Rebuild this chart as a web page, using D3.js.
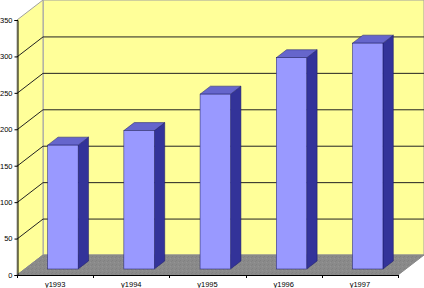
<!DOCTYPE html>
<html><head><meta charset="utf-8">
<script src="https://cdn.jsdelivr.net/npm/d3@7"></script>
<style>body{margin:0;background:#fff}svg{display:block}</style>
</head><body>
<svg id="c" width="424" height="288"></svg>
<script>
const categories = ["y1993","y1994","y1995","y1996","y1997"];
const values = [170, 190, 240, 290, 310];
const yTicks = [0,50,100,150,200,250,300,350];

const svg = d3.select("#c");
const DX = 26, DY = -20;
const x = d3.scaleBand().domain(categories).range([17, 398]).paddingInner(0.6).paddingOuter(0.3);
const xEdge = d3.scaleLinear().domain([0, categories.length]).range([17, 398]);
const y = d3.scaleLinear().domain([0, 350]).range([275, 20]);
const P = (px, v, d) => [px + d*DX, y(v) + d*DY];
const poly = pts => "M" + pts.map(p => p.join(",")).join("L") + "Z";

// floor texture pattern
const defs = svg.append("defs");
const pat = defs.append("pattern").attr("id","floor").attr("width",4).attr("height",4).attr("patternUnits","userSpaceOnUse");
pat.append("rect").attr("width",4).attr("height",4).attr("fill","#8a8a8a");
pat.append("rect").attr("x",0).attr("y",0).attr("width",1).attr("height",1).attr("fill","#808080");
pat.append("rect").attr("x",2).attr("y",2).attr("width",1).attr("height",1).attr("fill","#949494");
pat.append("rect").attr("x",3).attr("y",1).attr("width",1).attr("height",1).attr("fill","#828282");

const x0 = 17, x1 = 398, ymax = 350;
// back wall
svg.append("path").attr("d", poly([P(x0,0,1),P(x0,ymax,1),P(x1,ymax,1),P(x1,0,1)]))
  .attr("fill","#ffff99").attr("stroke","#a0a0a0").attr("stroke-width",1);
// left wall
svg.append("path").attr("d", poly([P(x0,0,0),P(x0,ymax,0),P(x0,ymax,1),P(x0,0,1)]))
  .attr("fill","#ffff99").attr("stroke","#a0a0a0").attr("stroke-width",1);
// dotted corner line
svg.append("line").attr("x1",P(x0,0,1)[0]+0.5).attr("x2",P(x0,ymax,1)[0]+0.5)
  .attr("y1",P(x0,0,1)[1]).attr("y2",P(x0,ymax,1)[1])
  .attr("stroke","#b0b0b0").attr("stroke-dasharray","1,1");
// gridlines
const gl = yTicks.filter(t => t > 0 && t < ymax);
gl.forEach(t => {
  const a = P(x0,t,0), b = P(x0,t,1), c = P(x1,t,1);
  svg.append("path").attr("d", `M${a[0]},${a[1]+0.5}L${b[0]},${b[1]+0.5}L${c[0]},${c[1]+0.5}`)
    .attr("fill","none").attr("stroke","#222").attr("stroke-width",1);
});
// floor
svg.append("path").attr("d", poly([P(x0,0,0),P(x0,0,1),P(x1,0,1),P(x1,0,0)]))
  .attr("fill","url(#floor)").attr("stroke","#888");

// bars
const d0 = 0.3, d1 = 0.7;
const g = svg.append("g");
categories.forEach((c, i) => {
  const xl = x(c), xr = x(c) + x.bandwidth(), v = values[i];
  g.append("path").attr("d", poly([P(xr,0,d0),P(xr,v,d0),P(xr,v,d1),P(xr,0,d1)]))
    .attr("fill","#333399").attr("stroke","#1a1a66").attr("stroke-width",0.5);
  g.append("path").attr("d", poly([P(xl,v,d0),P(xl,v,d1),P(xr,v,d1),P(xr,v,d0)]))
    .attr("fill","#6666cc").attr("stroke","#1a1a66").attr("stroke-width",0.5);
  const f0 = P(xl,v,d0), f1 = P(xr,0,d0);
  g.append("rect").attr("x",f0[0]).attr("y",f0[1]).attr("width",f1[0]-f0[0]).attr("height",f1[1]-f0[1])
    .attr("fill","#9999ff").attr("stroke","#1a1a66").attr("stroke-width",0.5);
});

// y axis
const ya = svg.append("g").attr("transform","translate(17.5,0)")
  .call(d3.axisLeft(y).tickValues(yTicks).tickSize(3).tickPadding(2).tickFormat(d3.format("d")));
ya.select(".domain").attr("stroke","#000");
ya.selectAll("line").attr("stroke","#000");
ya.selectAll("text").attr("font-family","Liberation Sans, Arial, sans-serif").attr("font-size","7.5px").attr("fill","#000");

// x axis
svg.append("line").attr("x1",17).attr("x2",398).attr("y1",275.5).attr("y2",275.5).attr("stroke","#000");
d3.range(categories.length+1).forEach(i => {
  svg.append("line").attr("x1",Math.round(xEdge(i))+0.5).attr("x2",Math.round(xEdge(i))+0.5)
    .attr("y1",275).attr("y2",278).attr("stroke","#000");
});
svg.selectAll(".xl").data(categories).enter().append("text")
  .attr("x", c => x(c) + x.bandwidth()/2).attr("y", 286.5)
  .attr("text-anchor","middle").attr("font-family","Liberation Sans, Arial, sans-serif")
  .attr("font-size","7.5px").text(c => c);
</script>
</body></html>
